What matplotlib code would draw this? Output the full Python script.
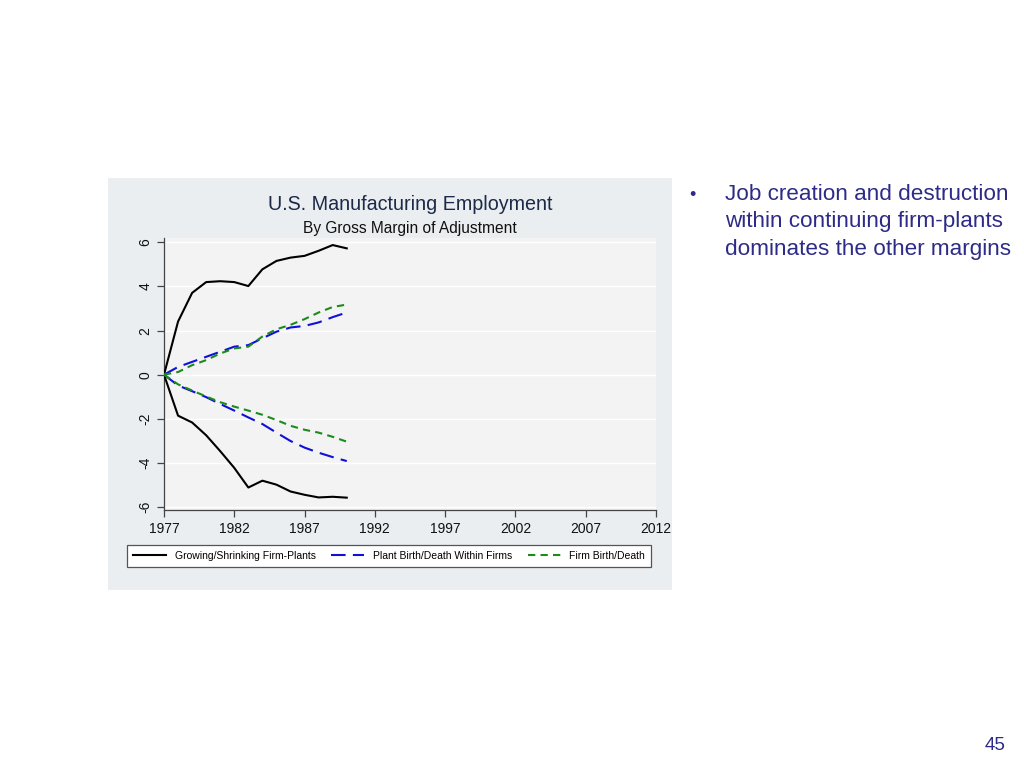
import matplotlib
matplotlib.use("Agg")
import matplotlib.pyplot as plt
from matplotlib.patches import Rectangle

years = list(range(1977, 1991))
grow_up = [0, 2.41, 3.71, 4.20, 4.24, 4.20, 4.02, 4.78, 5.16, 5.31, 5.39, 5.62, 5.88, 5.73]
grow_dn = [0, -1.86, -2.17, -2.75, -3.47, -4.23, -5.12, -4.81, -4.99, -5.30, -5.45, -5.57, -5.54, -5.58]
plant_up = [0, 0.35, 0.58, 0.81, 1.04, 1.27, 1.34, 1.65, 1.95, 2.14, 2.21, 2.37, 2.61, 2.82]
plant_dn = [0, -0.49, -0.75, -1.02, -1.33, -1.63, -1.94, -2.24, -2.63, -3.01, -3.31, -3.54, -3.74, -3.92]
firm_up = [0, 0.12, 0.43, 0.66, 0.96, 1.19, 1.27, 1.73, 2.06, 2.26, 2.52, 2.82, 3.07, 3.18]
firm_dn = [0, -0.44, -0.72, -0.99, -1.25, -1.45, -1.63, -1.82, -2.06, -2.32, -2.50, -2.63, -2.82, -3.04]
xticks = [1977, 1982, 1987, 1992, 1997, 2002, 2007, 2012]
yticks = [-6, -4, -2, 0, 2, 4, 6]
labels = ["Growing/Shrinking Firm-Plants", "Plant Birth/Death Within Firms", "Firm Birth/Death"]
bullet_lines = ["Job creation and destruction", "within continuing firm-plants", "dominates the other margins"]

plt.rcParams['font.family'] = ['Liberation Sans', 'DejaVu Sans']
plt.rcParams['axes.unicode_minus'] = False

W, H = 1024, 768
fig = plt.figure(figsize=(W / 100, H / 100), dpi=100)
fig.patch.set_facecolor('white')

# chart panel
fig.patches.append(Rectangle((108 / W, 1 - 590 / H), (672 - 108) / W, (590 - 178) / H,
                             transform=fig.transFigure, facecolor='#eaeef1', edgecolor='none', zorder=-10))

ax = fig.add_axes([164 / W, 1 - 510 / H, (656 - 164) / W, (510 - 238) / H])
ax.set_zorder(2)
ax.set_facecolor('#f3f3f3')
ax.set_xlim(1977, 2012)
ax.set_ylim(-6.14, 6.2)
for y in yticks:
    ax.axhline(y, color='white', lw=1.0, zorder=1)

ax.plot(years, grow_up, color='black', lw=1.5, zorder=3, label=labels[0])
ax.plot(years, grow_dn, color='black', lw=1.5, zorder=3)
ax.plot(years, plant_up, color='#1010d8', lw=1.5, dashes=(7, 3.5), zorder=3, label=labels[1])
ax.plot(years, plant_dn, color='#1010d8', lw=1.5, dashes=(7, 3.5), zorder=3)
ax.plot(years, firm_up, color='#1a8c1a', lw=1.5, dashes=(3.5, 2.5), zorder=3, label=labels[2])
ax.plot(years, firm_dn, color='#1a8c1a', lw=1.5, dashes=(3.5, 2.5), zorder=3)

for s in ['top', 'right']:
    ax.spines[s].set_visible(False)
for s in ['left', 'bottom']:
    ax.spines[s].set_color('#444444')
    ax.spines[s].set_linewidth(0.9)
ax.set_xticks(xticks)
ax.set_yticks(yticks)
ax.tick_params(axis='both', colors='#444444', labelcolor='#111111', labelsize=10, length=5, width=0.9)
ax.tick_params(axis='y', labelrotation=90)
for lab in ax.get_yticklabels():
    lab.set_va('center')

fig.text(410 / W, 1 - 205 / H, "U.S. Manufacturing Employment", ha='center', va='center',
         fontsize=14.2, color='#1c2a48')
fig.text(410 / W, 1 - 228 / H, "By Gross Margin of Adjustment", ha='center', va='center',
         fontsize=11.2, color='#111111')

leg = fig.legend(loc='center', bbox_to_anchor=(389 / W, 1 - 556 / H), ncol=3, fontsize=7.5,
                 frameon=True, fancybox=False, edgecolor='#555555', facecolor='white',
                 handlelength=3.2, columnspacing=1.5, borderpad=0.6, handletextpad=0.8)
leg.get_frame().set_linewidth(0.9)
leg.get_frame().set_alpha(1)
leg.set_zorder(3)

txt_color = '#2d2b87'
fig.text(692 / W, 1 - 195 / H, "•", ha='center', va='center', fontsize=13, color=txt_color)
for i, line in enumerate(bullet_lines):
    fig.text(725 / W, 1 - (195 + 27 * i) / H, line, ha='left', va='center', fontsize=16.2, color=txt_color)
fig.text(995 / W, 1 - 745 / H, "45", ha='center', va='center', fontsize=13.5, color=txt_color)

fig.savefig('out.png', dpi=100)
